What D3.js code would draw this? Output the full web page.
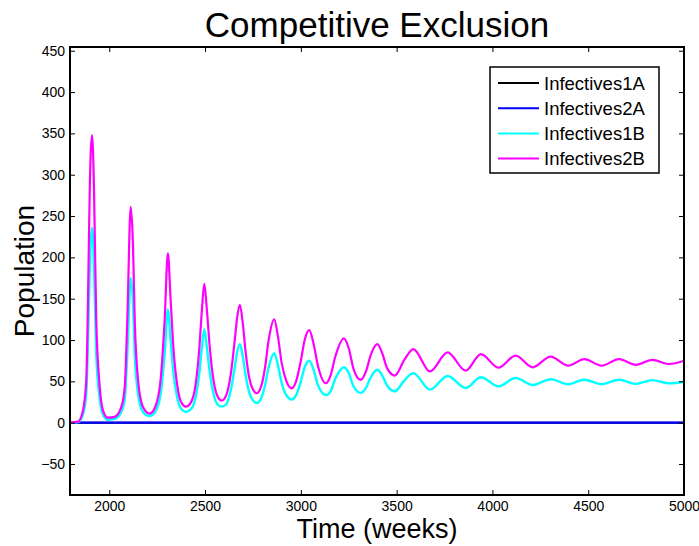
<!DOCTYPE html>
<html>
<head>
<meta charset="utf-8">
<script src="https://cdn.jsdelivr.net/npm/d3@7"></script>
<style>
  body { margin: 0; background: #fff; }
  text { font-family: "Liberation Sans", Arial, Helvetica, sans-serif; }
</style>
</head>
<body>
<svg width="699" height="546"></svg>
<script>
// time points (weeks)
var weeks = [1795, 1837, 1863, 1880, 1903, 1910, 1920, 1932, 1950, 1967, 1993, 2028, 2063, 2081, 2094,
  2112, 2124, 2133, 2150, 2176, 2211, 2240, 2268, 2289, 2306, 2320, 2335, 2355, 2375, 2400,
  2425, 2450, 2470, 2483, 2496, 2510, 2525, 2545, 2565, 2587, 2610, 2635, 2655, 2668, 2682,
  2697, 2712, 2730, 2750, 2769, 2790, 2812, 2832, 2861, 2880, 2900, 2925, 2952, 2975, 3000,
  3020, 3044, 3065, 3090, 3131, 3155, 3180, 3225, 3250, 3275, 3312, 3340, 3365, 3399, 3425,
  3450, 3491, 3540, 3587, 3674, 3766, 3860, 3940, 4031, 4121, 4210, 4304, 4396, 4480, 4570,
  4661, 4749, 4835, 4923, 5000];

var infectives2B = [0, 1.2, 15, 52, 326, 348, 286, 124, 44, 15, 6, 7, 19, 44, 124,
  261, 213, 124, 52, 19, 11, 19, 52, 124, 205, 150, 90, 45, 25, 19.4,
  24, 45, 90, 135, 168, 135, 90, 50, 32, 26.6, 33, 60, 100, 128, 142.5,
  120, 85, 55, 40, 35.6, 42, 65, 100, 125, 105, 72, 50, 41.6, 50, 75,
  100, 112, 97, 68, 47.7, 57, 80, 102, 90, 65, 51.7, 62, 82, 95, 84,
  66, 57, 76, 89, 62, 85, 63, 83, 66.6, 81, 67, 80, 69, 77, 69,
  77, 70, 76, 71, 75];

var infectives1B = [0, 0.8, 10, 35, 218, 236, 192, 83, 29, 10, 3.5, 4.5, 13, 29, 83,
  175, 143, 83, 35, 13, 8, 13, 35, 83, 137, 100, 60, 30, 17, 13,
  16, 30, 60, 90, 113, 90, 60, 34, 22, 19.4, 22, 40, 67, 86, 95,
  80, 57, 37, 27, 24, 28, 44, 67, 84, 70, 48, 33, 28, 33, 50,
  67, 75, 65, 45, 33.5, 38, 53, 67, 60, 44, 36, 42, 55, 64, 57,
  45, 38, 51, 60, 40, 56.5, 42, 55, 44, 54, 45.6, 52.5, 46.5, 52, 46.5,
  52, 47, 51.5, 47.5, 49.6];

var weeksA = [1795, 5000];
var infectives1A = [0, 0];
var infectives2A = [0, 0];

var seriesNames = ["Infectives1A", "Infectives2A", "Infectives1B", "Infectives2B"];
var seriesColors = ["#000000", "#0000ff", "#00ffff", "#ff00ff"];

var xTicks = [2000, 2500, 3000, 3500, 4000, 4500, 5000];
var yTicks = [-50, 0, 50, 100, 150, 200, 250, 300, 350, 400, 450];

var svg = d3.select("svg");
var plotLeft = 70, plotRight = 684, plotTop = 47, plotBottom = 495;

var xScale = d3.scaleLinear().domain([1795, 5000]).range([plotLeft, plotRight]);
var yScale = d3.scaleLinear().domain([-87.5, 454.5]).range([plotBottom, plotTop]);

var series = [
  {name: seriesNames[0], color: seriesColors[0], x: weeksA, y: infectives1A, w: 2},
  {name: seriesNames[1], color: seriesColors[1], x: weeksA, y: infectives2A, w: 2.2},
  {name: seriesNames[2], color: seriesColors[2], x: weeks, y: infectives1B, w: 2.4},
  {name: seriesNames[3], color: seriesColors[3], x: weeks, y: infectives2B, w: 2.2}
];

var line = d3.line()
  .x(d => xScale(d[0]))
  .y(d => yScale(d[1]))
  .curve(d3.curveMonotoneX);

svg.append("defs").append("clipPath").attr("id", "clip")
  .append("rect").attr("x", plotLeft).attr("y", plotTop)
  .attr("width", plotRight - plotLeft).attr("height", plotBottom - plotTop);

svg.append("g").attr("clip-path", "url(#clip)")
  .selectAll("path")
  .data(series)
  .join("path")
    .attr("fill", "none")
    .attr("stroke", d => d.color)
    .attr("stroke-width", d => d.w)
    .attr("stroke-linejoin", "round")
    .attr("d", d => line(d.x.map((t, i) => [t, d.y[i]])));

// axes, inward ticks on all four sides (box on)
function styleAxis(g) {
  g.select(".domain").remove();
  g.selectAll(".tick line").attr("stroke", "#000").attr("stroke-width", 1);
  g.selectAll("text").attr("font-size", 14).attr("fill", "#000")
    .attr("font-family", "Liberation Sans, Arial, sans-serif");
}

svg.append("g").attr("transform", "translate(0," + plotBottom + ")")
  .call(d3.axisBottom(xScale).tickValues(xTicks).tickSizeInner(-5).tickSizeOuter(0).tickPadding(6).tickFormat(d3.format("d")))
  .call(styleAxis);
svg.append("g").attr("transform", "translate(0," + plotTop + ")")
  .call(d3.axisTop(xScale).tickValues(xTicks).tickSizeInner(-5).tickSizeOuter(0).tickFormat(""))
  .call(styleAxis);
svg.append("g").attr("transform", "translate(" + plotLeft + ",0)")
  .call(d3.axisLeft(yScale).tickValues(yTicks).tickSizeInner(-5).tickSizeOuter(0).tickPadding(5).tickFormat(d3.format("d")))
  .call(styleAxis);
svg.append("g").attr("transform", "translate(" + plotRight + ",0)")
  .call(d3.axisRight(yScale).tickValues(yTicks).tickSizeInner(-5).tickSizeOuter(0).tickFormat(""))
  .call(styleAxis);

svg.append("rect")
  .attr("x", plotLeft).attr("y", plotTop)
  .attr("width", plotRight - plotLeft).attr("height", plotBottom - plotTop)
  .attr("fill", "none").attr("stroke", "#000").attr("stroke-width", 2);

// title and labels
svg.append("text")
  .attr("x", (plotLeft + plotRight) / 2).attr("y", 37)
  .attr("text-anchor", "middle").attr("font-size", 35)
  .text("Competitive Exclusion");

svg.append("text")
  .attr("x", (plotLeft + plotRight) / 2).attr("y", 538)
  .attr("text-anchor", "middle").attr("font-size", 27)
  .text("Time (weeks)");

svg.append("text")
  .attr("transform", "translate(34," + ((plotTop + plotBottom) / 2) + ") rotate(-90)")
  .attr("text-anchor", "middle").attr("font-size", 28)
  .text("Population");

// legend
var legend = svg.append("g");
legend.append("rect")
  .attr("x", 490).attr("y", 67).attr("width", 169).attr("height", 106)
  .attr("fill", "#fff").attr("stroke", "#000").attr("stroke-width", 1.5);

var rows = legend.selectAll("g.row")
  .data(series)
  .join("g").attr("class", "row")
  .attr("transform", (d, i) => "translate(0," + (83 + i * 25.2) + ")");
rows.append("line")
  .attr("x1", 498).attr("x2", 539)
  .attr("stroke", d => d.color).attr("stroke-width", 2);
rows.append("text")
  .attr("x", 544).attr("y", 6.5)
  .attr("font-size", 18.5)
  .text(d => d.name);
</script>
</body>
</html>
